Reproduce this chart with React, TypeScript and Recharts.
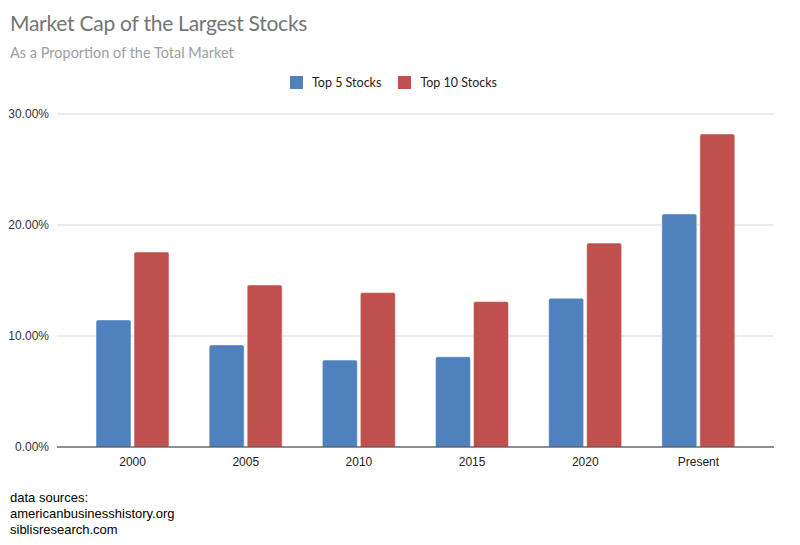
import { BarChart, Bar, XAxis, YAxis, CartesianGrid } from "recharts";

const categories = ["2000", "2005", "2010", "2015", "2020", "Present"];
const top5 = [11.45, 9.2, 7.83, 8.13, 13.4, 21.0];
const top10 = [17.57, 14.6, 13.91, 13.1, 18.37, 28.2];
const yTicks = [0, 10, 20, 30];
const sources = ["data sources:", "americanbusinesshistory.org", "siblisresearch.com"];

const series = [
  { key: "top5", name: "Top 5 Stocks", color: "#4f81bd" },
  { key: "top10", name: "Top 10 Stocks", color: "#c0504d" },
];

const data = categories.map((year, i) => ({
  year,
  top5: top5[i],
  top10: top10[i],
}));

const titleFont = "Lato, 'Open Sans', sans-serif";
const axisFont = "'Liberation Sans', Arial, sans-serif";

const formatPct = (v: number) => `${v.toFixed(2)}%`;

export default function App() {
  return (
    <div
      style={{
        position: "absolute",
        left: 0,
        top: 0,
        width: 800,
        height: 545,
        background: "#fff",
      }}
    >
      <div
        style={{
          position: "absolute",
          left: 10,
          top: 10,
          fontFamily: titleFont,
          fontSize: 21,
          letterSpacing: -0.25,
          color: "#757575",
        }}
      >
        Market Cap of the Largest Stocks
      </div>
      <div
        style={{
          position: "absolute",
          left: 10,
          top: 44,
          fontFamily: titleFont,
          fontSize: 14.5,
          color: "#9e9e9e",
        }}
      >
        As a Proportion of the Total Market
      </div>

      {/* legend */}
      <div
        style={{
          position: "absolute",
          left: 290,
          top: 75,
          display: "flex",
          gap: 17,
          fontFamily: titleFont,
          fontSize: 12.5,
          color: "#222",
        }}
      >
        {series.map((s) => (
          <div key={s.key} style={{ display: "flex", alignItems: "center", gap: 9 }}>
            <div style={{ width: 13, height: 13, background: s.color }} />
            <span>{s.name}</span>
          </div>
        ))}
      </div>

      <BarChart
        width={800}
        height={545}
        data={data}
        margin={{ top: 114, right: 26, bottom: 68, left: 0 }}
        barGap={3}
        barSize={35}
        style={{ position: "absolute", left: 0, top: 0 }}
      >
        <CartesianGrid vertical={false} stroke="#d9d9d9" />
        <XAxis
          dataKey="year"
          height={30}
          axisLine={{ stroke: "#333" }}
          tickLine={false}
          padding={{ left: 19, right: 19 }}
          tick={{ fontSize: 12, fill: "#222", fontFamily: axisFont }}
          tickMargin={4}
        />
        <YAxis
          width={57}
          domain={[0, 30]}
          ticks={yTicks}
          tickFormatter={formatPct}
          axisLine={false}
          tickLine={false}
          tick={{ fontSize: 12, fill: "#333", fontFamily: axisFont }}
        />
        {series.map((s) => (
          <Bar
            key={s.key}
            dataKey={s.key}
            name={s.name}
            fill={s.color}
            stroke="#fff"
            strokeWidth={0.5}
            radius={[2, 2, 0, 0]}
            isAnimationActive={false}
          />
        ))}
      </BarChart>

      <div
        style={{
          position: "absolute",
          left: 10,
          top: 490,
          fontFamily: axisFont,
          fontSize: 13,
          lineHeight: "16px",
          color: "#000",
        }}
      >
        {sources.map((s) => (
          <div key={s}>{s}</div>
        ))}
      </div>
    </div>
  );
}
